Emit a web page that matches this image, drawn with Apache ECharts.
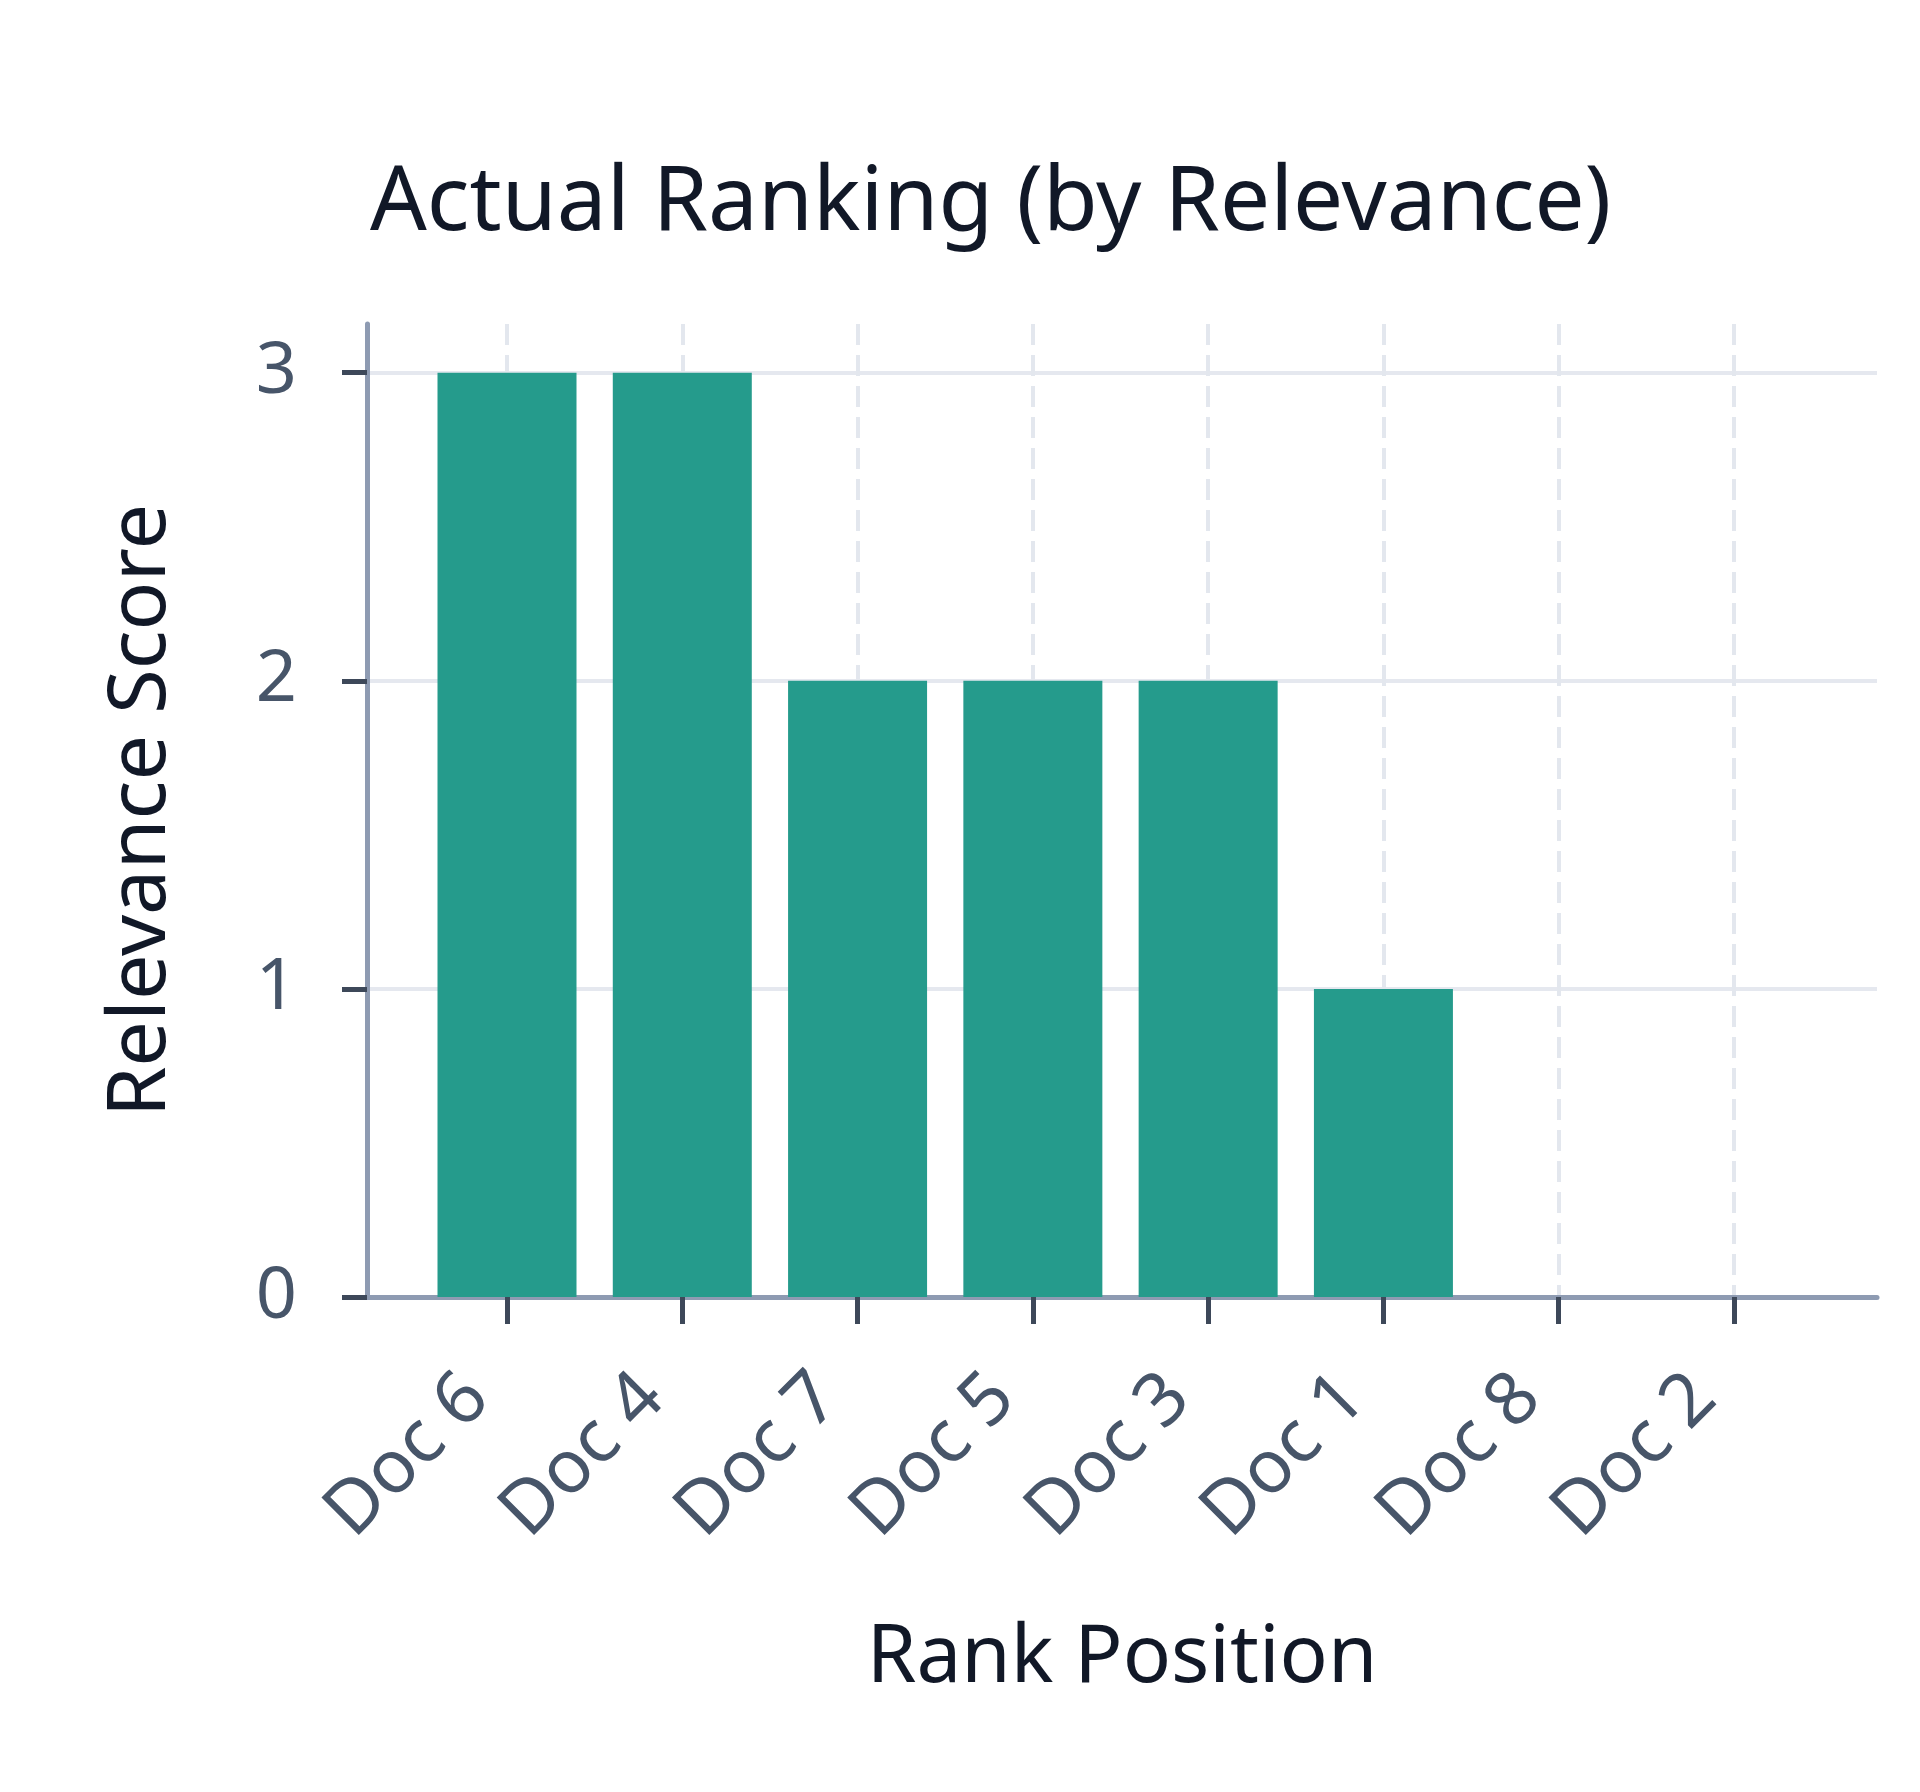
<!DOCTYPE html>
<html>
<head>
<meta charset="utf-8">
<script src="https://cdn.jsdelivr.net/npm/echarts@6/dist/echarts.min.js"></script>
<style>
  html, body { margin: 0; padding: 0; background: #ffffff; }
  #myChart { width: 1920px; height: 1792px; }
</style>
</head>
<body>
<div id="myChart"></div>
<script>
// data
var docs = ['Doc 6', 'Doc 4', 'Doc 7', 'Doc 5', 'Doc 3', 'Doc 1', 'Doc 8', 'Doc 2'];
var relevance = [3, 3, 2, 2, 2, 1, 0, 0];
var yTicks = [0, 1, 2, 3];
var yMax = 3.158; // autorange headroom above 3

var FONT = 'Noto Sans';
var myChart = echarts.init(document.getElementById('myChart'));

var option = {
    backgroundColor: '#ffffff',
    animation: false,
    textStyle: { fontFamily: FONT },
    title: {
        text: 'Actual Ranking (by Relevance)',
        left: 365,
        top: 155,
        textStyle: { fontFamily: FONT, fontSize: 89, fontWeight: 'normal', color: '#111827' }
    },
    grid: [
        // outer frame: axis lines, horizontal grid lines
        { left: 367, right: 43, top: 324, bottom: 495 },
        // bars: categories sit on the ticks
        { left: 507, right: 186, top: 324, bottom: 495 }
    ],
    xAxis: [{
        gridIndex: 0,
        type: 'value',
        min: 0,
        max: 1,
        name: 'Rank Position',
        nameLocation: 'middle',
        nameGap: 322,
        nameTextStyle: { fontFamily: FONT, fontSize: 80, color: '#111827' },
        axisLine: { show: true, lineStyle: { color: '#8e9bb2', width: 5 } },
        axisTick: { show: false },
        axisLabel: { show: false },
        splitLine: { show: false }
    }, {
        gridIndex: 1,
        type: 'category',
        data: docs,
        boundaryGap: false,
        axisLine: { show: false },
        axisTick: { show: true, length: 27, lineStyle: { color: '#3d4859', width: 5 } },
        axisLabel: {
            rotate: 45,
            margin: 60,
            padding: [0, 42, 0, 0],
            fontFamily: FONT,
            fontSize: 74,
            color: '#475569'
        },
        splitLine: { show: true, lineStyle: { color: '#e3e7ee', width: 4, type: [21, 10] } }
    }],
    yAxis: [{
        gridIndex: 0,
        type: 'value',
        min: 0,
        max: yMax,
        name: 'Relevance Score',
        nameLocation: 'middle',
        nameGap: 185,
        nameTextStyle: { fontFamily: FONT, fontSize: 81, color: '#111827' },
        axisLine: { show: true, lineStyle: { color: '#8e9bb2', width: 5 } },
        axisTick: { show: true, length: 25, customValues: yTicks, lineStyle: { color: '#3d4859', width: 5 } },
        axisLabel: { customValues: yTicks, margin: 70, fontFamily: FONT, fontSize: 72, color: '#475569' },
        splitLine: { show: true, lineStyle: { color: ['#e5e8ef', '#e5e8ef', '#e5e8ef', '#e5e8ef', 'rgba(0,0,0,0)'], width: 4 } }
    }, {
        gridIndex: 1,
        type: 'value',
        min: 0,
        max: yMax,
        show: false
    }],
    series: [{
        name: 'Relevance',
        type: 'bar',
        xAxisIndex: 1,
        yAxisIndex: 1,
        data: relevance,
        barWidth: 139,
        clip: false,
        itemStyle: { color: '#259b8c' }
    }]
};

myChart.setOption(option);
</script>
</body>
</html>
